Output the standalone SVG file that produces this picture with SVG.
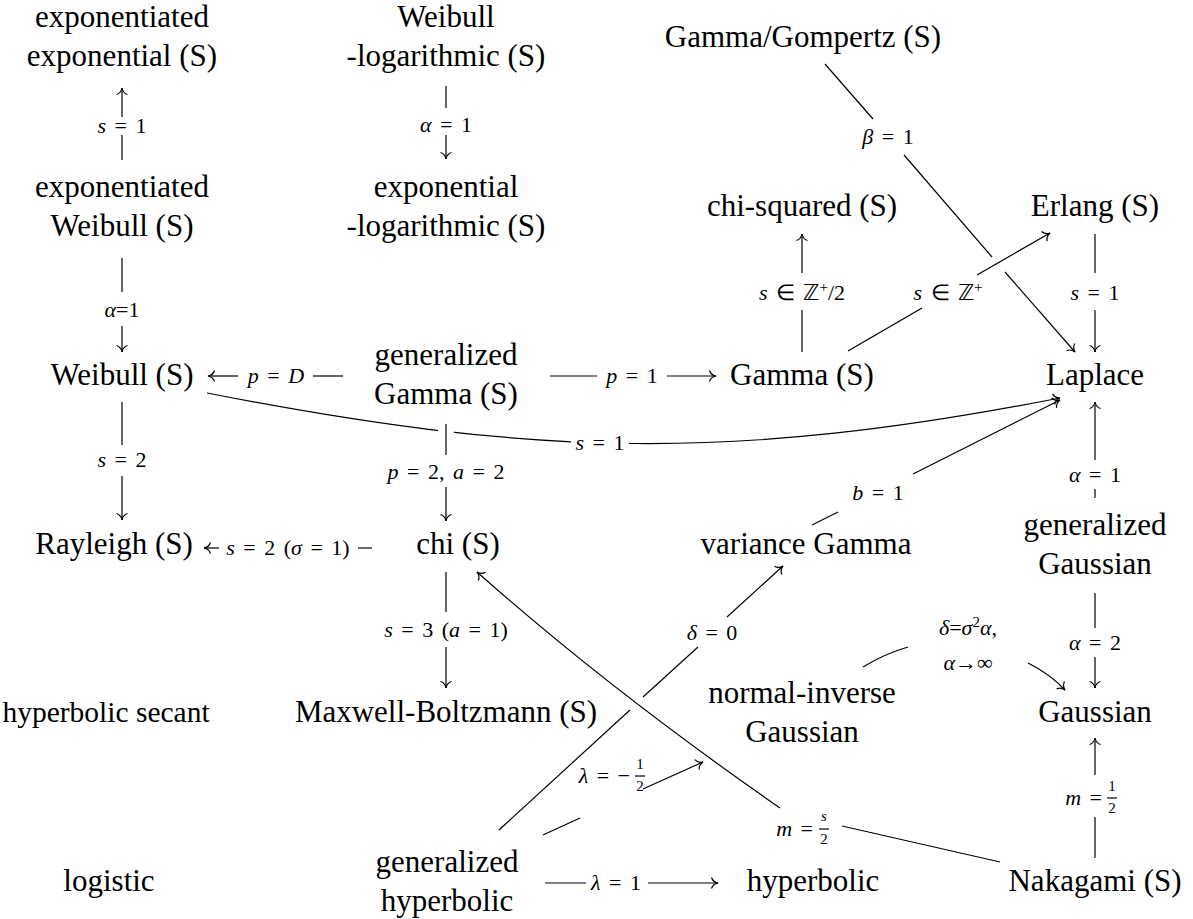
<svg xmlns="http://www.w3.org/2000/svg" width="1193" height="919" viewBox="0 0 1193 919">
<defs>
<style>
text{font-family:'Liberation Serif',serif;fill:#000}
.n{font-size:31px;text-anchor:middle}
.l{font-size:22px;text-anchor:middle;word-spacing:3px}
.r{font-size:22px;text-anchor:end;word-spacing:3px}
.f{font-size:15px;text-anchor:middle}
.i{font-style:italic}
.e{fill:none;stroke:#000;stroke-width:1.2}
.a{marker-end:url(#ar)}
.u{fill:none;stroke:#fff;stroke-width:16}
</style>
<marker id="ar" markerUnits="userSpaceOnUse" markerWidth="10" markerHeight="14" viewBox="-8 -7 10 14" refX="0" refY="0" orient="auto" overflow="visible">
<path d="M-6.5,-5.5 C-5.5,-2.2 -2.5,-0.5 0,0 C-2.5,0.5 -5.5,2.2 -6.5,5.5" fill="none" stroke="#000" stroke-width="1.2"/>
</marker>
</defs>
<rect width="1193" height="919" fill="#fff"/>

<g id="edges">
<path class="e" d="M122,160 L122,135"/>
<path class="e a" d="M122,117 L122,88"/>
<text class="l" x="122" y="133"><tspan class="i">s</tspan> = 1</text>
<path class="e" d="M446,86 L446,108"/>
<path class="e a" d="M446,135 L446,159"/>
<text class="l" x="446" y="132"><tspan class="i">α</tspan> = 1</text>
<path class="e" d="M122,258 L122,292"/>
<path class="e a" d="M122,326 L122,352"/>
<text class="l" x="122" y="317"><tspan class="i">α</tspan>=1</text>
<path class="e" d="M343,376 L313,376"/>
<path class="e a" d="M238,376 L208,376"/>
<text class="l" x="276" y="383"><tspan class="i">p</tspan> = <tspan class="i">D</tspan></text>
<path class="e" d="M550,376 L597,376"/>
<path class="e a" d="M667,376 L716,376"/>
<text class="l" x="632" y="383"><tspan class="i">p</tspan> = 1</text>
<path class="e" d="M802,352 L802,310"/>
<path class="e a" d="M802,273 L802,234"/>
<text class="l" x="802" y="300"><tspan class="i">s</tspan> ∈ ℤ<tspan dy="-8" font-size="15">+</tspan><tspan dy="8">/2</tspan></text>
<path class="e" d="M825,64 L873,119"/>
<path class="e" d="M904,155 L992,257"/>
<path class="e a" d="M1005,272 L1075,352"/>
<text class="l" x="888" y="144"><tspan class="i">β</tspan> = 1</text>
<path class="e" d="M848,351 L922,308"/>
<path class="e a" d="M977,275 L1050,233"/>
<text class="l" x="948" y="300"><tspan class="i">s</tspan> ∈ ℤ<tspan dy="-8" font-size="15">+</tspan></text>
<path class="e" d="M1095,234 L1095,273"/>
<path class="e a" d="M1095,310 L1095,352"/>
<text class="l" x="1095" y="300"><tspan class="i">s</tspan> = 1</text>
<path class="e a" d="M207,393 C535,457 732,462 1060,398"/>
<rect x="571" y="430" width="58" height="26" fill="#fff"/>
<text class="l" x="600" y="450"><tspan class="i">s</tspan> = 1</text>
<path class="u" d="M446,424 L446,455"/>
<path class="e" d="M446,424 L446,455"/>
<path class="e a" d="M446,487 L446,521"/>
<text class="l" x="446" y="479"><tspan class="i">p</tspan> = 2, <tspan class="i">a</tspan> = 2</text>
<path class="e" d="M122,402 L122,445"/>
<path class="e a" d="M122,476 L122,520"/>
<text class="l" x="122" y="467"><tspan class="i">s</tspan> = 2</text>
<path class="e" d="M372,548 L358,548"/>
<path class="e a" d="M219,548 L204,548"/>
<text class="l" x="288" y="555"><tspan class="i">s</tspan> = 2 (<tspan class="i">σ</tspan> = 1)</text>
<path class="e" d="M446,572 L446,612"/>
<path class="e a" d="M446,647 L446,688"/>
<text class="l" x="446" y="637"><tspan class="i">s</tspan> = 3 (<tspan class="i">a</tspan> = 1)</text>
<path class="e" d="M812,525 L838,512"/>
<path class="e a" d="M913,474 L1060,400"/>
<text class="l" x="878" y="500"><tspan class="i">b</tspan> = 1</text>
<path class="e" d="M1095,498 L1095,489"/>
<path class="e a" d="M1095,460 L1095,402"/>
<text class="l" x="1095" y="482"><tspan class="i">α</tspan> = 1</text>
<path class="e" d="M1095,593 L1095,628"/>
<path class="e a" d="M1095,657 L1095,688"/>
<text class="l" x="1095" y="650"><tspan class="i">α</tspan> = 2</text>
<path class="e" d="M863,667 Q884,654 908,647"/>
<path class="e a" d="M1028,663 Q1050,674 1065,690"/>
<text class="l" x="968" y="635"><tspan class="i">δ</tspan>=<tspan class="i">σ</tspan><tspan dy="-8" font-size="15">2</tspan><tspan dy="8" class="i">α</tspan>,</text>
<text class="l" x="968" y="670"><tspan class="i">α</tspan>→∞</text>
<path class="e" d="M499,830 L630,710"/>
<path class="e" d="M643,697 L698,647"/>
<path class="e a" d="M727,617 L783,566"/>
<text class="l" x="712" y="640"><tspan class="i">δ</tspan> = 0</text>
<path class="e" d="M1000,862 L842,826"/>
<path class="e a" d="M780,808 Q610,690 477,572"/>
<text class="r" x="813" y="836"><tspan class="i">m</tspan> =</text>
<text class="f i" x="824" y="821">s</text>
<path class="e" d="M819,829 L829,829" stroke-width="0.9"/>
<text class="f" x="824" y="844">2</text>
<path class="e" d="M543,835 L580,818"/>
<path class="e a" d="M643,789 L703,762"/>
<text class="r" x="630" y="783"><tspan class="i">λ</tspan> = −</text>
<text class="f" x="640" y="769">1</text>
<path class="e" d="M635,776 L645,776" stroke-width="0.9"/>
<text class="f" x="640" y="791">2</text>
<path class="e" d="M545,883 L586,883"/>
<path class="e a" d="M648,883 L718,883"/>
<text class="l" x="616" y="890"><tspan class="i">λ</tspan> = 1</text>
<path class="e" d="M1095,858 L1095,817"/>
<path class="e a" d="M1095,775 L1095,738"/>
<text class="r" x="1102" y="805"><tspan class="i">m</tspan> =</text>
<text class="f" x="1112" y="791">1</text>
<path class="e" d="M1107,798 L1117,798" stroke-width="0.9"/>
<text class="f" x="1112" y="813">2</text>
</g>

<g id="expexp"><text class="n" x="122" y="27">exponentiated</text><text class="n" x="122" y="66">exponential (S)</text></g>
<g id="wlog"><text class="n" x="446" y="27">Weibull</text><text class="n" x="446" y="66">-logarithmic (S)</text></g>
<g id="gamgomp"><text class="n" x="803" y="47">Gamma/Gompertz (S)</text></g>
<g id="expweib"><text class="n" x="122" y="197">exponentiated</text><text class="n" x="122" y="236">Weibull (S)</text></g>
<g id="explog"><text class="n" x="446" y="197">exponential</text><text class="n" x="446" y="236">-logarithmic (S)</text></g>
<g id="chisq"><text class="n" x="802" y="216">chi-squared (S)</text></g>
<g id="erlang"><text class="n" x="1095" y="216">Erlang (S)</text></g>
<g id="weibull"><text class="n" x="122" y="385">Weibull (S)</text></g>
<g id="gengamma"><text class="n" x="446" y="365">generalized</text><text class="n" x="446" y="404">Gamma (S)</text></g>
<g id="gamma"><text class="n" x="802" y="385">Gamma (S)</text></g>
<g id="laplace"><text class="n" x="1095" y="385">Laplace</text></g>
<g id="rayleigh"><text class="n" x="114" y="554">Rayleigh (S)</text></g>
<g id="chi"><text class="n" x="458" y="554">chi (S)</text></g>
<g id="vargamma"><text class="n" x="806" y="554">variance Gamma</text></g>
<g id="gengauss"><text class="n" x="1095" y="535">generalized</text><text class="n" x="1095" y="574">Gaussian</text></g>
<g id="hypsec"><text class="n" x="106" y="722" style="font-size:29.5px">hyperbolic secant</text></g>
<g id="maxwell"><text class="n" x="446" y="722">Maxwell-Boltzmann (S)</text></g>
<g id="nig"><text class="n" x="802" y="703">normal-inverse</text><text class="n" x="802" y="742">Gaussian</text></g>
<g id="gauss"><text class="n" x="1095" y="722">Gaussian</text></g>
<g id="logistic"><text class="n" x="109" y="891">logistic</text></g>
<g id="genhyp"><text class="n" x="447" y="872">generalized</text><text class="n" x="447" y="911">hyperbolic</text></g>
<g id="hyp"><text class="n" x="813" y="891">hyperbolic</text></g>
<g id="nakagami"><text class="n" x="1095" y="891">Nakagami (S)</text></g>
</svg>
